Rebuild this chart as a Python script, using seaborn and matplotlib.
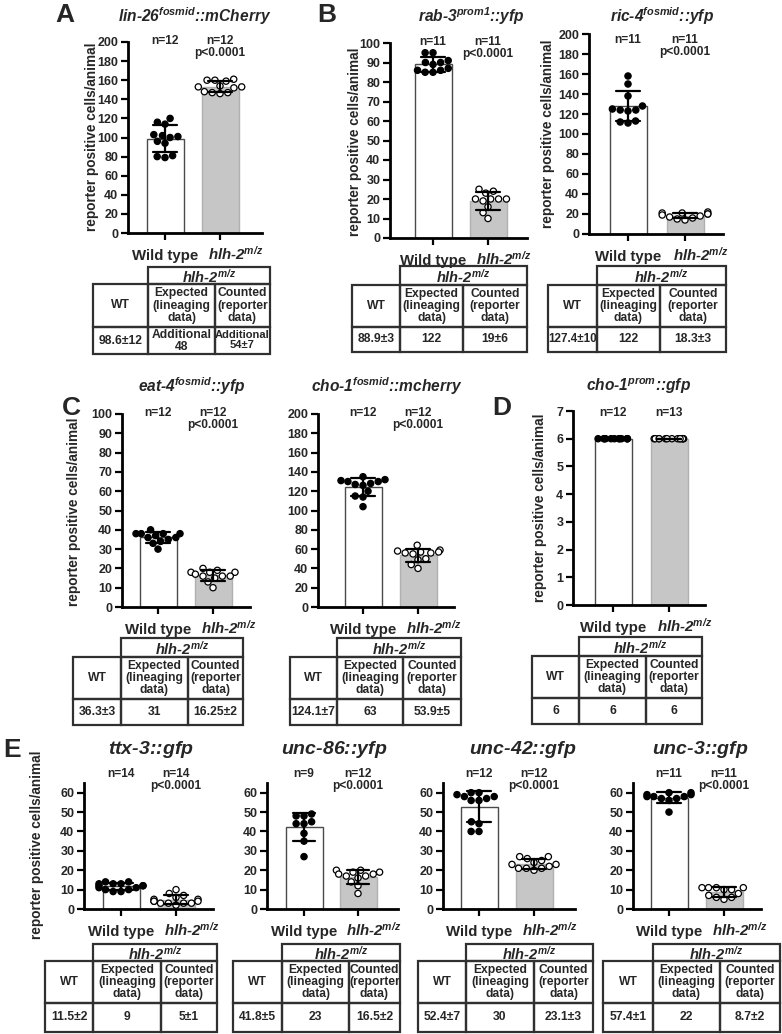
import numpy as np
import pandas as pd
import matplotlib as mpl
mpl.use("Agg")
import matplotlib.pyplot as plt
import seaborn as sns
from matplotlib.patches import Rectangle

# ---------------- data ----------------
groups = ["WT", "MUT"]
xlabels_wt = "Wild type"
xlabel_mut = r"$\text{hlh-2}^{\text{m/z}}$"

lin26_wt = [120, 116, 114, 102, 101, 103, 100, 96, 94, 80, 79, 81]
lin26_mut = [161, 160, 160, 159, 154, 153, 153, 152, 148, 147, 147, 146]
rab3_wt = [95, 95, 90, 91, 89, 90, 86, 85, 86, 87, 85]
rab3_mut = [25, 24, 23, 20, 20, 20, 19, 20, 16, 13, 10]
ric4_wt = [158, 150, 138, 128, 124, 125, 123, 124, 113, 112, 111]
ric4_mut = [22, 21, 21, 20, 20, 19, 18, 17, 16, 15, 14]
eat4_wt = [40, 38, 38, 38, 38, 37, 36, 36, 35, 34, 33, 30]
eat4_mut = [20, 19, 18, 18, 18, 17, 16, 16, 16, 15, 13, 10]
cho1f_wt = [135, 132, 131, 130, 130, 128, 127, 126, 120, 115, 114, 104]
cho1f_mut = [64, 59, 58, 57, 57, 56, 56, 55, 50, 49, 44, 40]
cho1p_wt = [6, 6, 6, 6, 6, 6, 6, 6, 6, 6, 6, 6]
cho1p_mut = [6, 6, 6, 6, 6, 6, 6, 6, 6, 6, 6, 6, 6]
ttx3_wt = [14, 14, 13, 13, 13, 12, 12, 12, 11, 11, 10, 10, 9, 9]
ttx3_mut = [10, 8, 7, 6, 5, 5, 4, 4, 4, 3, 3, 3, 3, 2]
unc86_wt = [49, 48, 48, 45, 44, 44, 39, 35, 27]
unc86_mut = [20, 20, 19, 19, 18, 18, 17, 17, 16, 14, 12, 8]
unc42_wt = [60, 60, 59, 58, 58, 57, 56, 56, 45, 44, 40, 40]
unc42_mut = [27, 27, 26, 25, 24, 22, 23, 23, 21, 21, 21, 20]
unc3_wt = [60, 60, 59, 59, 58, 58, 58, 57, 57, 56, 50]
unc3_mut = [11, 11, 11, 11, 10, 10, 8, 7, 6, 6, 5]

titles = {
    "lin26": r"$\text{lin-26}^{\text{fosmid}}\text{::mCherry}$",
    "rab3": r"$\text{rab-3}^{\text{prom1}}\text{::yfp}$",
    "ric4": r"$\text{ric-4}^{\text{fosmid}}\text{::yfp}$",
    "eat4": r"$\text{eat-4}^{\text{fosmid}}\text{::yfp}$",
    "cho1f": r"$\text{cho-1}^{\text{fosmid}}\text{::mcherry}$",
    "cho1p": r"$\text{cho-1}^{\text{prom}}\text{::gfp}$",
    "ttx3": r"$\text{ttx-3::gfp}$",
    "unc86": r"$\text{unc-86::yfp}$",
    "unc42": r"$\text{unc-42::gfp}$",
    "unc3": r"$\text{unc-3::gfp}$",
}
n_labels = {
    "lin26": ("n=12", "n=12\np<0.0001"), "rab3": ("n=11", "n=11\np<0.0001"),
    "ric4": ("n=11", "n=11\np<0.0001"), "eat4": ("n=12", "n=12\np<0.0001"),
    "cho1f": ("n=12", "n=12\np<0.0001"), "cho1p": ("n=12", "n=13"),
    "ttx3": ("n=14", "n=14\np<0.0001"), "unc86": ("n=9", "n=12\np<0.0001"),
    "unc42": ("n=12", "n=12\np<0.0001"), "unc3": ("n=11", "n=11\np<0.0001"),
}
table_vals = {
    "lin26": ("98.6±12", "Additional\n48", "Additional\n54±7"),
    "rab3": ("88.9±3", "122", "19±6"),
    "ric4": ("127.4±10", "122", "18.3±3"),
    "eat4": ("36.3±3", "31", "16.25±2"),
    "cho1f": ("124.1±7", "63", "53.9±5"),
    "cho1p": ("6", "6", "6"),
    "ttx3": ("11.5±2", "9", "5±1"),
    "unc86": ("41.8±5", "23", "16.5±2"),
    "unc42": ("52.4±7", "30", "23.1±3"),
    "unc3": ("57.4±1", "22", "8.7±2"),
}
ylabel = "reporter positive cells/animal"

# ---------------- style ----------------
sns.set_style("ticks")
plt.rcParams["font.family"] = ["Liberation Sans", "DejaVu Sans"]
plt.rcParams["font.weight"] = "bold"
plt.rcParams["mathtext.fontset"] = "custom"
plt.rcParams["mathtext.rm"] = "Liberation Sans:bold:italic"
plt.rcParams["mathtext.it"] = "Liberation Sans:bold:italic"
plt.rcParams["mathtext.bf"] = "Liberation Sans:bold:italic"

W, H = 782, 1034
fig = plt.figure(figsize=(W / 100, H / 100), dpi=100)
renderer = fig.canvas.get_renderer()
ov = fig.add_axes([0, 0, 1, 1])
ov.set_xlim(0, W)
ov.set_ylim(H, 0)
ov.axis("off")

BAR_GREY = "#c6c6c6"
LINE = "#303030"


def add_ax(left, right, bottom, top):
    return fig.add_axes([left / W, 1 - bottom / H, (right - left) / W, (bottom - top) / H])


def chart(key, wt, mut, ymax, yticks, left, right, zero, top, c0, c1,
          title_xy, n_y, title_fs=11.2, strip=False):
    ax = add_ax(left, right, zero, top)
    df = pd.DataFrame({"g": ["WT"] * len(wt) + ["MUT"] * len(mut),
                       "v": list(wt) + list(mut)})
    d = c1 - c0
    sns.barplot(df, x="g", y="v", hue="g", order=groups,
                palette={"WT": "white", "MUT": BAR_GREY},
                errorbar="sd", capsize=0.42, width=37 / d,
                err_kws={"color": "black", "linewidth": 1.6, "zorder": 5},
                legend=False, ax=ax)
    for p in ax.patches:
        fc = p.get_facecolor()
        if fc[0] > 0.95:
            p.set_edgecolor("#4a4a4a")
        else:
            p.set_edgecolor("#b0b0b0")
        p.set_linewidth(1.0)
    if strip:
        np.random.seed(4)
        sns.stripplot(df, x="g", y="v", hue="g", order=groups,
                      palette={"WT": "black", "MUT": "white"}, jitter=0.27,
                      edgecolor="black", linewidth=0.9, size=4.5,
                      legend=False, ax=ax, zorder=3)
    else:
        sns.swarmplot(df, x="g", y="v", hue="g", order=groups,
                      palette={"WT": "black", "MUT": "white"},
                      edgecolor="black", linewidth=0.9, size=4.5,
                      legend=False, ax=ax, zorder=3, warn_thresh=1)
    ax.set_xlim((left - c0) / d, (right - c0) / d)
    ax.set_ylim(0, ymax)
    ax.set_yticks(yticks)
    ax.set_yticklabels([str(t) for t in yticks], fontsize=9, fontweight="bold")
    ax.set_xticks([0, 1])
    ax.set_xticklabels(["", ""])
    ax.set_xlabel("")
    ax.set_ylabel("")
    for s in ["top", "right"]:
        ax.spines[s].set_visible(False)
    for s in ["left", "bottom"]:
        ax.spines[s].set_linewidth(2.0)
        ax.spines[s].set_color("black")
    ax.tick_params(axis="both", length=5, width=1.6, color="black")
    ax.tick_params(axis="y", pad=2)
    ax.patch.set_alpha(0)
    # category labels
    ov.text(c0, zero + 27, xlabels_wt, ha="center", va="baseline", fontsize=10.8,
            fontweight="bold")
    ov.text(c1 - 12, zero + 27, xlabel_mut, ha="left", va="baseline", fontsize=10.8)
    # titles and n labels
    ov.text(title_xy[0], title_xy[1], titles[key], ha="center", va="center",
            fontsize=title_fs)
    n0, n1 = n_labels[key]
    ov.text(c0, n_y, n0, ha="center", va="top", fontsize=8.6, fontweight="bold")
    ov.text(c1, n_y, n1, ha="center", va="top", fontsize=8.6, fontweight="bold",
            linespacing=1.05)
    return ax


def fit_text(x, y, s, width, fs, **kw):
    t = ov.text(x, y, s, ha="center", va="center", fontsize=fs, **kw)
    w = t.get_window_extent(renderer).width
    if w > width:
        t.set_fontsize(max(fs * width / w, fs * 0.85))
    return t


def table(key, x0, x1, x2, x3, y0, y1, y2, y3):
    lw = 1.6
    cells = [(x1, y0, x3, y1), (x0, y1, x1, y2), (x1, y1, x2, y2), (x2, y1, x3, y2),
             (x0, y2, x1, y3), (x1, y2, x2, y3), (x2, y2, x3, y3)]
    for a, b, c, e in cells:
        ov.add_patch(Rectangle((a, b), c - a, e - b, fill=False, edgecolor=LINE,
                               linewidth=lw))
    fs = 8.7
    ov.text((x1 + x3) / 2, (y0 + y1) / 2 + 1, xlabel_mut, ha="center", va="center",
            fontsize=10.5)
    ov.text((x0 + x1) / 2, (y1 + y2) / 2, "WT", ha="center", va="center", fontsize=fs)
    fit_text((x1 + x2) / 2, (y1 + y2) / 2, "Expected\n(lineaging\ndata)", x2 - x1 + 2,
             fs, linespacing=1.02)
    fit_text((x2 + x3) / 2, (y1 + y2) / 2, "Counted\n(reporter\ndata)", x3 - x2 + 2,
             fs, linespacing=1.02)
    v = table_vals[key]
    for (a, c), s in zip([(x0, x1), (x1, x2), (x2, x3)], v):
        fit_text((a + c) / 2, (y2 + y3) / 2, s, c - a, fs, linespacing=1.0)


# ---------------- panels ----------------
t200 = list(range(0, 201, 20))
t100 = list(range(0, 101, 10))
t60 = list(range(0, 61, 10))

chart("lin26", lin26_wt, lin26_mut, 200, t200, 128, 262, 233, 42, 165, 220, (195, 16), 35)
chart("rab3", rab3_wt, rab3_mut, 100, t100, 390, 527, 238, 43, 433, 488, (471, 16), 36)
chart("ric4", ric4_wt, ric4_mut, 200, t200, 589, 723, 234, 34, 628, 685, (662, 16), 34)
chart("eat4", eat4_wt, eat4_mut, 100, t100, 122, 250, 607, 414, 158, 213, (192, 386), 407)
chart("cho1f", cho1f_wt, cho1f_mut, 200, t200, 318, 454, 607, 414, 363, 418, (387, 386), 407)
chart("cho1p", cho1p_wt, cho1p_mut, 7, list(range(0, 8)), 573, 705, 605, 411, 613, 669,
      (638, 386), 407, strip=True)
chart("ttx3", ttx3_wt, ttx3_mut, 65, t60, 84, 213, 909, 783, 121, 176, (151, 749), 768, 14)
chart("unc86", unc86_wt, unc86_mut, 65, t60, 267, 398, 909, 783, 304, 358, (334, 749), 768, 14)
chart("unc42", unc42_wt, unc42_mut, 65, t60, 443, 575, 909, 783, 479, 534, (523, 749), 768, 14)
chart("unc3", unc3_wt, unc3_mut, 65, t60, 633, 761, 909, 783, 669, 724, (700, 749), 768, 14)

table("lin26", 93, 148, 215, 270, 267, 284, 327, 354)
table("rab3", 352, 400, 463, 527, 266, 285, 327, 352)
table("ric4", 548, 597, 660, 726, 266, 285, 327, 352)
table("eat4", 73, 121, 188, 243, 638, 657, 699, 725)
table("cho1f", 290, 337, 403, 461, 638, 657, 699, 725)
table("cho1p", 532, 579, 646, 702, 637, 656, 698, 724)
table("ttx3", 45, 93, 161, 217, 944, 961, 1003, 1032)
table("unc86", 233, 282, 349, 400, 944, 961, 1003, 1032)
table("unc42", 418, 466, 534, 593, 944, 961, 1003, 1032)
table("unc3", 603, 653, 720, 780, 944, 961, 1003, 1032)

# y labels
for (x, y) in [(92, 137), (355, 142), (548, 134), (74, 512), (540, 508), (37, 845)]:
    ov.text(x, y, ylabel, rotation=90, ha="center", va="center", fontsize=9.8,
            fontweight="bold")

# panel letters
for s, (x, y) in zip("ABCDE", [(65, 15), (327, 15), (71, 408), (502, 408), (12, 750)]):
    ov.text(x, y, s, ha="center", va="center", fontsize=19, fontweight="bold")

fig.savefig("out.png", dpi=100)
